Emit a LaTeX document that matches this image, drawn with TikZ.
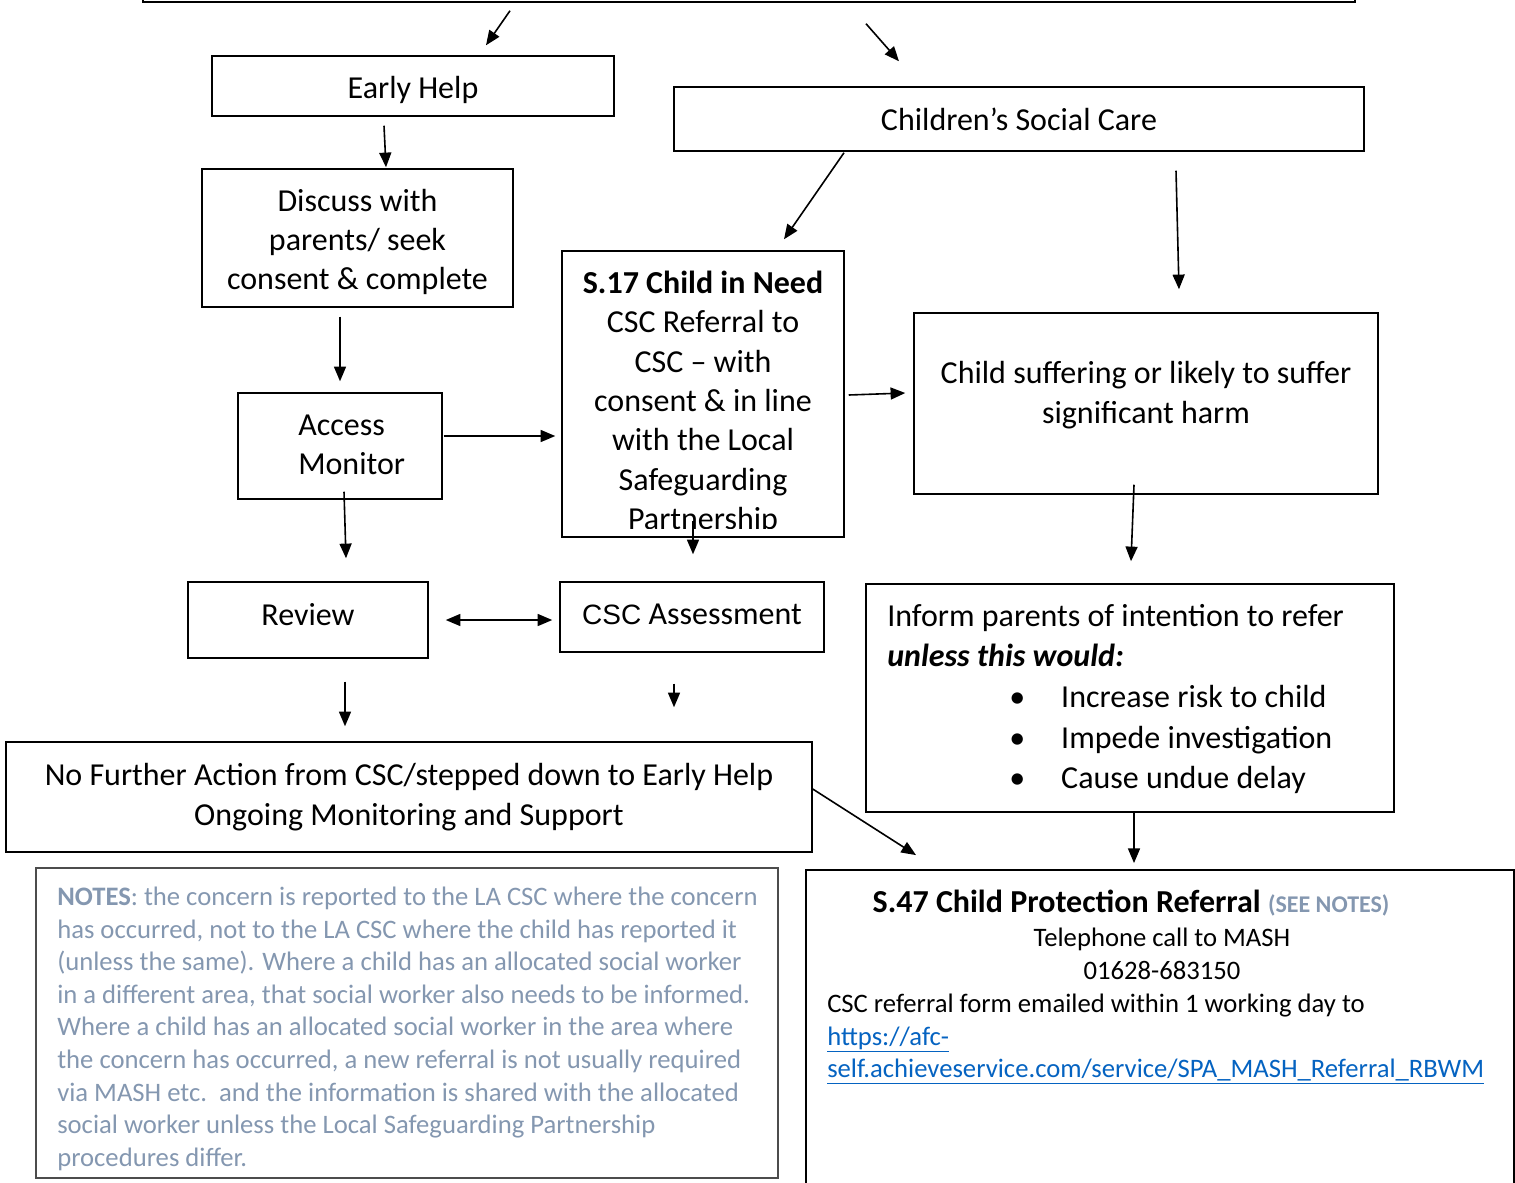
\documentclass[tikz,border=0pt]{standalone}
\usepackage{fontspec}
\setmainfont{Carlito}
\newfontfamily\arialfont{Liberation Sans}
\usetikzlibrary{arrows.meta}
\definecolor{notegray}{HTML}{8497B0}
\definecolor{linkblue}{HTML}{0563C1}
\newcommand{\bigtxt}{\fontsize{24}{29.5}\selectfont}
\newcommand{\midtxt}{\fontsize{20}{24.4}\selectfont}

\begin{document}
\begin{tikzpicture}[x=0.75pt, y=-0.75pt,
    box/.style={draw, line width=1.1pt, inner sep=0pt, align=center, font=\bigtxt},
    txt/.style={align=center, font=\bigtxt, inner sep=0pt},
    wh/.style 2 args={minimum width=#1*0.75pt, minimum height=#2*0.75pt},
    arr/.style={line width=1.2pt, -{Triangle[length=11pt, width=9pt]}},
    arrboth/.style={line width=1.2pt, {Triangle[length=11pt, width=9pt]}-{Triangle[length=11pt, width=9pt]}}]
    \useasboundingbox (0,0) rectangle (1515,1182);

    % Top box (cut off by the page)
    \node[box, wh={1212}{60}] (top) at (749,-28) {};

    % Early Help side
    \node[box, wh={402}{60}] (earlyhelp) at (413,86) {};
    \node[txt] (earlyhelptxt) at (413,90) {Early Help};
    \node[box, wh={311}{138}] (discuss) at (357.5,238) {};
    \node[txt] (discusstxt) at (357.5,242) {Discuss with\\parents/ seek\\consent \& complete};
    \node[box, wh={204}{106}] (access) at (340,446) {};
    \node[txt, align=left, anchor=west] (accesstxt) at (298,445) {Access\\Monitor};
    \node[box, wh={240}{76}] (review) at (308,620) {};
    \node[txt] (reviewtxt) at (308,615) {Review};

    % Children's Social Care side
    \node[box, wh={690}{64}] (csc) at (1019,119) {Children’s Social Care};
    \node[box, wh={282}{286}] (s17) at (703,394) {};
    \begin{scope}
        \clip (562,251) rectangle (844,528);
        \node[txt] (s17txt) at (703,403) {\textbf{S.17 Child in Need}\\CSC Referral to\\CSC – with\\consent \& in line\\with the Local\\Safeguarding\\Partnership};
    \end{scope}
    \node[box, wh={264}{70}] (assess) at (692,617) {};
    \node[txt] (assesstxt) at (692,614) {{\arialfont\fontsize{21}{24}\selectfont CSC} Assessment};
    \node[box, wh={464}{181}] (harm) at (1146,403.5) {};
    \node[txt] (harmtxt) at (1146,395) {Child suffering or likely to suffer\\significant harm};

    % Inform parents
    \node[box, wh={528}{228}] (inform) at (1130,698) {};
    \node[txt, align=left, font=\fontsize{24}{30.4}\selectfont, anchor=north west] (informtxt) at (887,604) {Inform parents of intention to refer\\\textbf{\textit{unless this would:}}\\\hspace*{91.5pt}\makebox[39pt][l]{\textbullet}Increase risk to child\\\hspace*{91.5pt}\makebox[39pt][l]{\textbullet}Impede investigation\\\hspace*{91.5pt}\makebox[39pt][l]{\textbullet}Cause undue delay};

    % No further action
    \node[box, wh={806}{110}] (nfa) at (409,797) {No Further Action from CSC/stepped down to Early Help\\Ongoing Monitoring and Support};

    % Notes
    \node[draw=black!70, line width=0.8pt, wh={742}{310}] (notes) at (407,1023) {};
    \node[anchor=north west, align=left, font=\midtxt, text=notegray, inner sep=0pt] (notestxt) at (57,887) {\textbf{NOTES}: the concern is reported to the LA CSC where the concern\\has occurred, not to the LA CSC where the child has reported it\\(unless the same). Where a child has an allocated social worker\\in a different area, that social worker also needs to be informed.\\Where a child has an allocated social worker in the area where\\the concern has occurred, a new referral is not usually required\\via MASH etc.\ \ and the information is shared with the allocated\\social worker unless the Local Safeguarding Partnership\\procedures differ.};

    % S.47 referral
    \node[box, line width=1.4pt, wh={708}{330}] (s47) at (1160,1035) {};
    \node[txt] (s47title) at (1131,903) {\textbf{S.47 Child Protection Referral} {\fontsize{18}{20}\selectfont\bfseries\color{notegray}(SEE NOTES)}};
    \node[txt, font=\midtxt] (s47phone) at (1162,954) {Telephone call to MASH\\01628-683150};
    \node[txt, font=\midtxt, align=left, anchor=north west] (s47form) at (827,994) {CSC referral form emailed within 1 working day to\\{\color{linkblue}\underline{https://afc-}}\\{\color{linkblue}\underline{self.achieveservice.com/service/SPA\_MASH\_Referral\_RBWM}}};

    % Connections
    \draw[arr] ([shift={(-239,8)}]top.south) -- ([shift={(73,-10)}]earlyhelp.north);
    \draw[arr] ([shift={(117,21)}]top.south) -- ([shift={(-120,-25)}]csc.north);
    \draw[arr] ([shift={(-29,9)}]earlyhelp.south) -- ([shift={(28.5,-1)}]discuss.north);
    \draw[arr] ([shift={(-17.5,9)}]discuss.south) -- ([shift={(0,-11)}]access.north);
    \draw[arr] ([shift={(-175,1)}]csc.south) -- ([shift={(81,-11)}]s17.north);
    \draw[arr] ([shift={(157,19)}]csc.south) -- ([shift={(33,-23)}]harm.north);
    \draw[arr] ([shift={(1,-10)}]access.east) -- ([shift={(-6,42)}]s17.west);
    \draw[arr] ([shift={(4,1)}]s17.east) -- ([shift={(-8,-10.5)}]harm.west);
    \draw[arr] ([shift={(4,-8)}]access.south) -- ([shift={(38,-23)}]review.north);
    \draw[arr] ([shift={(-10,-17)}]s17.south) -- ([shift={(1,-27)}]assess.north);
    \draw[arrboth] ([shift={(17,0)}]review.east) -- ([shift={(-7,3)}]assess.west);
    \draw[arr] ([shift={(-12,-10)}]harm.south) -- ([shift={(1,-22)}]inform.north);
    \draw[arr] ([shift={(37,23)}]review.south) -- ([shift={(-64,-15)}]nfa.north);
    \draw[arr] ([shift={(-18,31)}]assess.south) -- ([shift={(265,-34)}]nfa.north);
    \draw[arr] ([shift={(0,-8)}]nfa.east) -- ([shift={(-244,-14)}]s47.north);
    \draw[arr] ([shift={(4,0)}]inform.south) -- ([shift={(-26,-6)}]s47.north);
\end{tikzpicture}
\end{document}
